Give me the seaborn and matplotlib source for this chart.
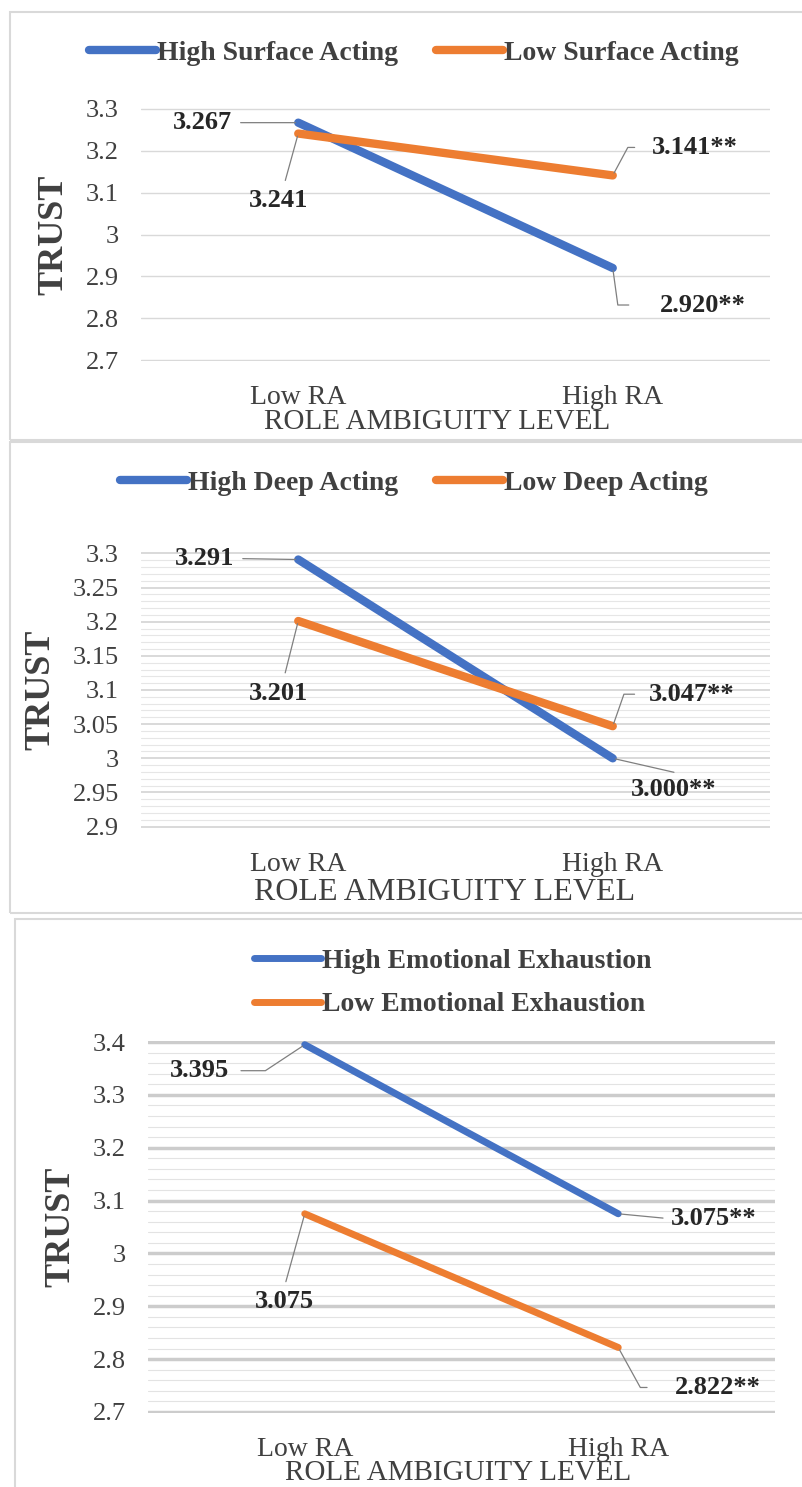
import pandas as pd
import seaborn as sns
import matplotlib.pyplot as plt
from matplotlib.patches import Rectangle
from matplotlib.ticker import MultipleLocator, FuncFormatter

# Данные трёх графиков
levels = ["Low RA", "High RA"]

surface_names = ["High Surface Acting", "Low Surface Acting"]
surface_high = [3.267, 2.920]
surface_low = [3.241, 3.141]

deep_names = ["High Deep Acting", "Low Deep Acting"]
deep_high = [3.291, 3.000]
deep_low = [3.201, 3.047]

exh_names = ["High Emotional Exhaustion", "Low Emotional Exhaustion"]
exh_high = [3.395, 3.075]
exh_low = [3.075, 2.822]

BLUE = "#4472C4"
ORANGE = "#ED7D31"
TXT = "#404040"
W, H = 802, 1487

sns.set_theme(style="white")
plt.rcParams['font.family'] = ['Liberation Serif', 'DejaVu Serif']

fig = plt.figure(figsize=(W / 100, H / 100), dpi=100)


def fig_rect(x0, y0, x1, y1):
    """пиксели (сверху вниз) -> координаты фигуры"""
    return [x0 / W, 1 - y1 / H, (x1 - x0) / W, (y1 - y0) / H]


def make_df(names, high, low):
    return pd.DataFrame({
        'level': levels * 2,
        'trust': high + low,
        'group': [names[0]] * 2 + [names[1]] * 2,
    })


def arm(angle, length):
    return f"arc,angleA={angle},armA={length},angleB=0,armB=0,rad=0"


def draw_panel(rect, names, high, low, ylim, major, minor, lw, major_style, minor_style,
               leg_xy, leg_ncol, xlabel_xy, ylabel_x, xlabel_size, offsets):
    ax = fig.add_axes(fig_rect(*rect))
    df = make_df(names, high, low)
    sns.lineplot(data=df, x='level', y='trust', hue='group', sort=False,
                 palette={names[0]: BLUE, names[1]: ORANGE}, linewidth=lw,
                 ax=ax, legend=True, zorder=3)
    for line in ax.lines:
        line.set_solid_capstyle('round')
    ax.set_xlim(-0.5, 1.5)
    ax.set_ylim(ylim[0] - 0.002, ylim[1] + 0.002)
    ax.yaxis.set_major_locator(MultipleLocator(major))
    ax.yaxis.set_major_formatter(FuncFormatter(lambda v, p: f"{round(v, 3):g}"))
    ax.grid(axis='y', which='major', **major_style)
    if minor:
        ax.yaxis.set_minor_locator(MultipleLocator(minor))
        ax.grid(axis='y', which='minor', **minor_style)
    ax.grid(axis='x', visible=False)
    ax.set_axisbelow(True)
    for s in ax.spines.values():
        s.set_visible(False)
    ax.tick_params(axis='both', which='both', length=0, colors=TXT)
    ax.tick_params(axis='y', pad=16, labelsize=19)
    ax.tick_params(axis='x', pad=17, labelsize=20)

    ax.set_xlabel("ROLE AMBIGUITY LEVEL", fontsize=xlabel_size, color=TXT, va='center')
    ax.xaxis.set_label_coords(*xlabel_xy)
    ax.set_ylabel("TRUST", fontsize=26, fontweight='bold', color=TXT, va='center')
    ax.yaxis.set_label_coords(ylabel_x, 0.5)

    handles, labels = ax.get_legend_handles_labels()
    leg = ax.legend(handles, labels, loc='center', bbox_to_anchor=leg_xy,
                    bbox_transform=fig.transFigure, ncol=leg_ncol, frameon=False,
                    handlelength=2.4, handletextpad=0.05, columnspacing=1.35,
                    labelspacing=0.65, prop={'size': 20, 'weight': 'bold'})
    for t in leg.get_texts():
        t.set_color(TXT)
    for l in leg.get_lines():
        l.set_linewidth(lw)
        l.set_solid_capstyle('round')

    # подписи значений с выносками
    vals = [(0, high[0], ""), (0, low[0], ""), (1, high[1], "**"), (1, low[1], "**")]
    for (xi, v, suf), (dx, dy, relpos, conn, shr) in zip(vals, offsets):
        ax.annotate(f"{v:.3f}{suf}", xy=(xi, v), xytext=(dx, dy), textcoords='offset pixels',
                    ha='center', va='center', fontsize=19, fontweight='bold', color='#262626',
                    arrowprops=dict(arrowstyle='-', color='#7f7f7f', lw=0.9, relpos=relpos,
                                    shrinkA=shr, shrinkB=2, connectionstyle=conn))
    return ax


straight = "arc3,rad=0"

# панель 1
draw_panel((141, 108, 770, 361), surface_names, surface_high, surface_low,
           (2.7, 3.3), 0.1, None, 6,
           dict(color='#d9d9d9', linewidth=1.0), None,
           (414 / W, 1 - 53 / H), 2, (0.47, -0.241), -0.138, 21,
           [(-96, 0, (1, 0.5), straight, 4),
            (-20, -67, (0.6, 1.2), straight, 3),
            (90, -37, (0, 0.5), arm(180, 42), 20),
            (82, 28, (0, 0.5), arm(180, 24), 10)])

# панель 2
draw_panel((141, 552, 770, 828), deep_names, deep_high, deep_low,
           (2.9, 3.3), 0.05, 0.01, 6,
           dict(color='#d0d0d0', linewidth=1.1), dict(color='#e6e6e6', linewidth=0.8),
           (414 / W, 1 - 483 / H), 2, (0.482, -0.232), -0.159, 23,
           [(-94, 1, (1, 0.5), straight, 4),
            (-20, -72, (0.6, 1.2), straight, 3),
            (61, -31, (0.55, 1.2), straight, 3),
            (79, 32, (0, 0.5), arm(180, 25), 8)])

# панель 3
draw_panel((148, 1041, 775, 1413), exh_names, exh_high, exh_low,
           (2.7, 3.4), 0.1, 0.02, 5,
           dict(color='#cccccc', linewidth=2.5), dict(color='#e3e3e3', linewidth=0.8),
           (453 / W, 1 - 983 / H), 1, (0.494, -0.16), -0.139, 21,
           [(-105, -26, (1, 0.5), arm(0, 36), 6),
            (-20, -88, (0.5, 1.2), straight, 3),
            (95, -5, (0, 0.5), straight, 3),
            (100, -40, (0, 0.5), arm(180, 35), 18)])

# рамки панелей
for x0, y0, x1, y1 in [(10, 12, 812, 440), (10, 442, 812, 913), (15, 919, 812, 1500)]:
    fig.add_artist(Rectangle((x0 / W, 1 - y1 / H), (x1 - x0) / W, (y1 - y0) / H,
                             transform=fig.transFigure, fill=False,
                             edgecolor='#d9d9d9', linewidth=1.5))

plt.savefig('out.png', dpi=100)
